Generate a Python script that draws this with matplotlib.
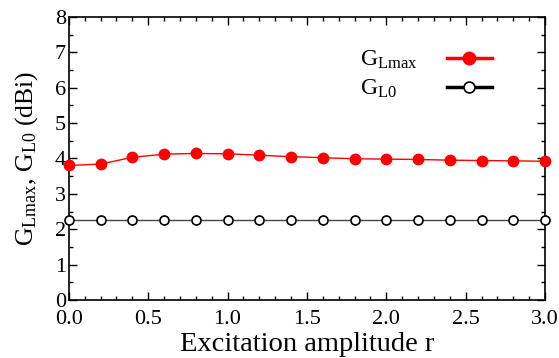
import matplotlib
matplotlib.use("Agg")
import matplotlib.pyplot as plt
from matplotlib.ticker import MultipleLocator

plt.rcParams['font.family'] = ['Liberation Serif', 'DejaVu Serif']
plt.rcParams['mathtext.fontset'] = 'custom'
plt.rcParams['mathtext.rm'] = 'Liberation Serif'

r = [0.0, 0.2, 0.4, 0.6, 0.8, 1.0, 1.2, 1.4, 1.6, 1.8, 2.0, 2.2, 2.4, 2.6, 2.8, 3.0]
g_lmax = [3.80, 3.84, 4.03, 4.12, 4.14, 4.13, 4.09, 4.05, 4.02, 3.99, 3.98, 3.97, 3.95, 3.94, 3.93, 3.92]
g_l0 = [2.25] * len(r)
labels = [r'$\mathregular{G_{Lmax}}$', r'$\mathregular{G_{L0}}$']

fig = plt.figure(figsize=(5.59, 3.58), dpi=100)
ax = fig.add_axes([0.123, 0.162, 0.852, 0.791])

l1, = ax.plot(r, g_lmax, color='red', lw=1, marker='o', ms=7.5, mfc='red', mec='red',
              zorder=3, clip_on=False)
l2, = ax.plot(r, g_l0, color='#444444', lw=1, marker='o', ms=6.5, mfc='white', mec='black',
              mew=1.2, zorder=3, clip_on=False)

ax.set_xlim(0, 3)
ax.set_ylim(0, 8)
ax.xaxis.set_major_locator(MultipleLocator(0.5))
ax.xaxis.set_minor_locator(MultipleLocator(0.1))
ax.yaxis.set_major_locator(MultipleLocator(1))
ax.yaxis.set_minor_locator(MultipleLocator(0.5))
ax.xaxis.set_major_formatter(plt.FormatStrFormatter('%.1f'))
ax.tick_params(which='both', direction='in', top=True, right=True, labelsize=16, width=1, pad=2)
ax.tick_params(axis='x', which='major', pad=7.5)
ax.tick_params(which='major', length=6)
ax.tick_params(which='minor', length=3)
for s in ax.spines.values():
    s.set_linewidth(1.2)

ax.set_xlabel('Excitation amplitude r', fontsize=20.5, labelpad=2)
ax.set_ylabel(r'$\mathregular{G_{Lmax}}$, $\mathregular{G_{L0}}$ (dBi)', fontsize=18.5, labelpad=11)

# legend: handles only, labels placed as left-aligned text
leg = ax.legend([l1, l2], ['', ''], loc='center', bbox_to_anchor=(0.841, 0.797), frameon=False,
                handlelength=3.2, labelspacing=1.15, handletextpad=0, borderpad=0,
                markerscale=1.2)
leg.get_lines()[0].set_color('red')
leg.get_lines()[1].set_color('black')
for line in leg.get_lines():
    line.set_linewidth(2.5)
for lab, yy in zip(labels, [0.848, 0.746]):
    ax.text(0.611, yy, lab, transform=ax.transAxes, fontsize=17, ha='left', va='center')

fig.savefig('out.png', dpi=100)
